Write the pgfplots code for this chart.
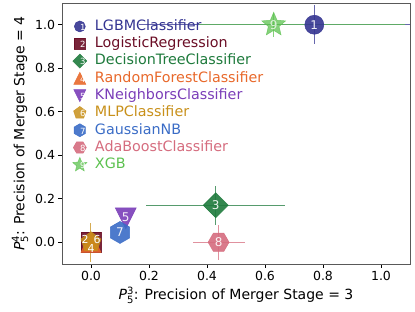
\documentclass[border=0pt]{standalone}
\usepackage{fontspec}
\setmainfont{DejaVu Sans}
\usepackage{pgfplots}
\pgfplotsset{compat=1.18}

\definecolor{c1}{HTML}{343491}
\definecolor{c2}{HTML}{6A0D25}
\definecolor{c3}{HTML}{1E7A3C}
\definecolor{c4}{HTML}{E8682A}
\definecolor{c5}{HTML}{7A3DB8}
\definecolor{c6}{HTML}{C8901A}
\definecolor{c7}{HTML}{3A6CC6}
\definecolor{c8}{HTML}{D56C7E}
\definecolor{c9}{HTML}{5CC14F}

\newdimen\starin
\pgfdeclareplotmark{mdiamond}{%
  \pgfpathmoveto{\pgfqpoint{0pt}{\pgfplotmarksize}}%
  \pgfpathlineto{\pgfqpoint{\pgfplotmarksize}{0pt}}%
  \pgfpathlineto{\pgfqpoint{0pt}{-\pgfplotmarksize}}%
  \pgfpathlineto{\pgfqpoint{-\pgfplotmarksize}{0pt}}%
  \pgfpathclose\pgfusepathqfillstroke}
\pgfdeclareplotmark{mtriup}{%
  \pgfpathmoveto{\pgfqpoint{0pt}{\pgfplotmarksize}}%
  \pgfpathlineto{\pgfqpoint{\pgfplotmarksize}{-\pgfplotmarksize}}%
  \pgfpathlineto{\pgfqpoint{-\pgfplotmarksize}{-\pgfplotmarksize}}%
  \pgfpathclose\pgfusepathqfillstroke}
\pgfdeclareplotmark{mtridown}{%
  \pgfpathmoveto{\pgfqpoint{0pt}{-\pgfplotmarksize}}%
  \pgfpathlineto{\pgfqpoint{\pgfplotmarksize}{\pgfplotmarksize}}%
  \pgfpathlineto{\pgfqpoint{-\pgfplotmarksize}{\pgfplotmarksize}}%
  \pgfpathclose\pgfusepathqfillstroke}
\pgfdeclareplotmark{mpent}{%
  \pgfpathmoveto{\pgfpointpolar{90}{\pgfplotmarksize}}%
  \pgfpathlineto{\pgfpointpolar{162}{\pgfplotmarksize}}%
  \pgfpathlineto{\pgfpointpolar{234}{\pgfplotmarksize}}%
  \pgfpathlineto{\pgfpointpolar{306}{\pgfplotmarksize}}%
  \pgfpathlineto{\pgfpointpolar{18}{\pgfplotmarksize}}%
  \pgfpathclose\pgfusepathqfillstroke}
\pgfdeclareplotmark{mhexa}{%
  \pgfpathmoveto{\pgfpointpolar{90}{\pgfplotmarksize}}%
  \pgfpathlineto{\pgfpointpolar{150}{\pgfplotmarksize}}%
  \pgfpathlineto{\pgfpointpolar{210}{\pgfplotmarksize}}%
  \pgfpathlineto{\pgfpointpolar{270}{\pgfplotmarksize}}%
  \pgfpathlineto{\pgfpointpolar{330}{\pgfplotmarksize}}%
  \pgfpathlineto{\pgfpointpolar{30}{\pgfplotmarksize}}%
  \pgfpathclose\pgfusepathqfillstroke}
\pgfdeclareplotmark{mhexb}{%
  \pgfpathmoveto{\pgfpointpolar{0}{\pgfplotmarksize}}%
  \pgfpathlineto{\pgfpointpolar{60}{\pgfplotmarksize}}%
  \pgfpathlineto{\pgfpointpolar{120}{\pgfplotmarksize}}%
  \pgfpathlineto{\pgfpointpolar{180}{\pgfplotmarksize}}%
  \pgfpathlineto{\pgfpointpolar{240}{\pgfplotmarksize}}%
  \pgfpathlineto{\pgfpointpolar{300}{\pgfplotmarksize}}%
  \pgfpathclose\pgfusepathqfillstroke}
\pgfdeclareplotmark{mstar}{%
  \starin=0.45\pgfplotmarksize
  \pgfpathmoveto{\pgfpointpolar{90}{\pgfplotmarksize}}%
  \pgfpathlineto{\pgfpointpolar{126}{\starin}}%
  \pgfpathlineto{\pgfpointpolar{162}{\pgfplotmarksize}}%
  \pgfpathlineto{\pgfpointpolar{198}{\starin}}%
  \pgfpathlineto{\pgfpointpolar{234}{\pgfplotmarksize}}%
  \pgfpathlineto{\pgfpointpolar{270}{\starin}}%
  \pgfpathlineto{\pgfpointpolar{306}{\pgfplotmarksize}}%
  \pgfpathlineto{\pgfpointpolar{342}{\starin}}%
  \pgfpathlineto{\pgfpointpolar{18}{\pgfplotmarksize}}%
  \pgfpathlineto{\pgfpointpolar{54}{\starin}}%
  \pgfpathclose\pgfusepathqfillstroke}

\newcommand{\Pl}[2]{\textit{P}$^{\hbox{\fontsize{10}{10}\selectfont #1}}_{\hbox{\fontsize{10}{10}\selectfont #2}}$}
\newcommand{\lgd}[4]{% color, mark, size, digit
  \draw[#1, fill=#1, solid, mark=#2, mark size=#3] plot coordinates {(0.3cm,0cm)};
  \node[white, font=\fontsize{8.5}{8.5}\selectfont, inner sep=0pt] at (0.3cm,0cm) {#4};}

\pgfplotsset{
  mystyle/.style n args={5}{only marks, mark=#2, mark size=#3, color=#1, solid,
    mark options={solid, fill=#1, draw=#1, fill opacity=#5, draw opacity=#5, line width=0.5pt},
    nodes near coords={#4},
    every node near coord/.style={anchor=center, text=white, inner sep=0pt, font=\fontsize{12}{12}\selectfont},
    error bars/x dir=both, error bars/y dir=both,
    error bars/x explicit, error bars/y explicit,
    error bars/error bar style={#1, solid, opacity=0.75, line width=1pt},
    error bars/error mark=none},
  numlabel/.style n args={3}{only marks, mark=none, forget plot,
    nodes near coords={#1},
    every node near coord/.style={anchor=center, text=white, inner sep=0pt,
      font=\fontsize{11}{11}\selectfont, xshift=#2, yshift=#3}},
}

\begin{document}
\begin{tikzpicture}
\begin{axis}[
  scale only axis, width=348pt, height=261pt,
  xmin=-0.1, xmax=1.1, ymin=-0.1, ymax=1.1,
  xtick={0,0.2,0.4,0.6,0.8,1.0}, ytick={0,0.2,0.4,0.6,0.8,1.0},
  tick pos=left, tick align=outside, major tick length=3.5pt,
  tick style={black, line width=0.8pt},
  axis line style={black!65, line width=0.9pt},
  ticklabel style={font=\fontsize{12.5}{12.5}\selectfont},
  /pgf/number format/assume math mode=true,
  xticklabel style={/pgf/number format/.cd, fixed, fixed zerofill, precision=1},
  yticklabel style={/pgf/number format/.cd, fixed, fixed zerofill, precision=1},
  xlabel={\Pl{3}{5}: Precision of Merger Stage = 3},
  ylabel={\Pl{4}{5}: Precision of Merger Stage = 4},
  label style={font=\fontsize{14}{14}\selectfont},
  xlabel style={at={(axis description cs:0.5,-0.1188)}, anchor=center},
  ylabel style={at={(axis description cs:-0.1207,0.5)}, anchor=center},
  legend style={at={(0,1)}, anchor=north west, xshift=10.5pt, yshift=-15.5pt,
    draw=none, fill=none, inner sep=0pt, column sep=7pt, row sep=1.8pt,
    nodes={inner sep=1pt, text height=10.5pt, text depth=3pt},
    font=\fontsize{14.3}{14.3}\selectfont},
  legend cell align=left,
]
\addplot[mystyle={c1}{*}{9.5pt}{1}{0.9},
  legend image code/.code={\lgd{c1}{*}{5.5pt}{1}}]
  coordinates {(0.77,1.0) += (0.6,0.09) -= (0.605,0.09)};
\addlegendentry{\textcolor{c1}{LGBMClassifier}}
\addplot[mystyle={c2}{square*}{10pt}{}{0.9},
  legend image code/.code={\lgd{c2}{square*}{5.5pt}{2}}]
  coordinates {(0,0) +- (0,0)};
\addlegendentry{\textcolor{c2}{LogisticRegression}}
\addplot[mystyle={c3}{mdiamond}{12.5pt}{3}{0.9},
  legend image code/.code={\lgd{c3}{mdiamond}{7pt}{3}}]
  coordinates {(0.43,0.17) +- (0.24,0.09)};
\addlegendentry{\textcolor{c3}{DecisionTreeClassifier}}
\addplot[mystyle={c4}{mtriup}{10pt}{}{0.9},
  legend image code/.code={\lgd{c4}{mtriup}{6pt}{4}}]
  coordinates {(0,0) +- (0,0)};
\addlegendentry{\textcolor{c4}{RandomForestClassifier}}
\addplot[mystyle={c5}{mtridown}{10.5pt}{5}{0.9},
  every node near coord/.append style={yshift=1pt},
  legend image code/.code={\lgd{c5}{mtridown}{6pt}{5}}]
  coordinates {(0.12,0.11) +- (0,0)};
\addlegendentry{\textcolor{c5}{KNeighborsClassifier}}
\addplot[mystyle={c6}{mpent}{10.5pt}{}{0.85},
  legend image code/.code={\lgd{c6}{mpent}{6.5pt}{6}}]
  coordinates {(0,0) +- (0.035,0.09)};
\addlegendentry{\textcolor{c6}{MLPClassifier}}
\addplot[mystyle={c7}{mhexa}{11pt}{7}{0.9},
  legend image code/.code={\lgd{c7}{mhexa}{6.5pt}{7}}]
  coordinates {(0.10,0.045) +- (0,0)};
\addlegendentry{\textcolor{c7}{GaussianNB}}
\addplot[mystyle={c8}{mhexb}{10.5pt}{8}{0.9},
  legend image code/.code={\lgd{c8}{mhexb}{6.5pt}{8}}]
  coordinates {(0.44,0.0) +- (0.09,0.08)};
\addlegendentry{\textcolor{c8}{AdaBoostClassifier}}
\addplot[mystyle={c9}{mstar}{12.5pt}{9}{0.75},
  legend image code/.code={\lgd{c9}{mstar}{7.5pt}{9}}]
  coordinates {(0.63,1.0) += (0.453,0.055) -= (0.256,0.055)};
\addlegendentry{\textcolor{c9}{XGB}}
% digits of the three overlapping markers at (0,0), on top
\addplot[numlabel={2}{-6pt}{2.5pt}] coordinates {(0,0)};
\addplot[numlabel={4}{0pt}{-6pt}] coordinates {(0,0)};
\addplot[numlabel={6}{6pt}{2.5pt}] coordinates {(0,0)};
\end{axis}
\pgfresetboundingbox
\path ([shift={(-62pt,-47pt)}]current axis.south west) rectangle ([shift={(5pt,3pt)}]current axis.north east);
\end{tikzpicture}
\end{document}
